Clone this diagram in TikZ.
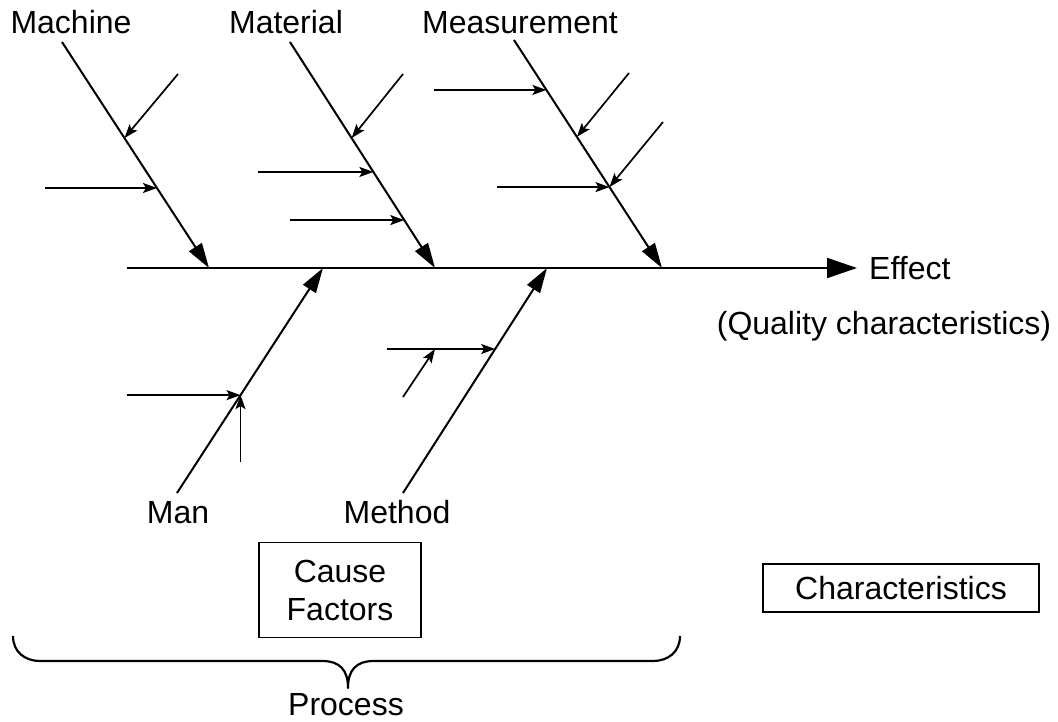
\documentclass[tikz,border=0pt]{standalone}
\usepackage{fontspec}
\setmainfont{Liberation Sans}
\usetikzlibrary{arrows.meta,calc}
\begin{document}
\begin{tikzpicture}[x=1pt,y=-1pt,
  every node/.style={font=\fontsize{32}{38}\selectfont, inner sep=0pt},
  bone/.style={line width=2pt, -{Triangle[length=25pt,width=15pt]}},
  twig/.style={line width=1.7pt, -{Stealth[length=14pt,width=10pt,inset=3pt]}},
  frame/.style={draw, line width=1.8pt}]
\useasboundingbox (0,0) rectangle (1058,721);

% spine and effect
\coordinate (tail) at (127,268);
\coordinate (head) at (857,268);
\draw[line width=2pt, -{Triangle[length=30pt,width=20pt]}] (tail) -- (head);
\node[anchor=base west] (effect) at (869,279) {Effect};
\node[anchor=base] (quality) at (884,334) {(Quality characteristics)};

% category labels
\node[anchor=base] (machine) at (71,33) {Machine};
\node[anchor=base] (material) at (286,33) {Material};
\node[anchor=base] (measurement) at (520,33) {Measurement};
\node[anchor=base] (man) at (178,523) {Man};
\node[anchor=base] (method) at (397,523) {Method};

% main bones
\coordinate (mach0) at (62,42);   \coordinate (mach1) at (209,268);
\coordinate (mat0) at (290,42);   \coordinate (mat1) at (435,268);
\coordinate (meas0) at (514,40);  \coordinate (meas1) at (662,268);
\coordinate (man0) at (177,493);  \coordinate (man1) at (323,268);
\coordinate (meth0) at (403,493); \coordinate (meth1) at (547,268);
\draw[bone] (mach0) -- (mach1);
\draw[bone] (mat0) -- (mat1);
\draw[bone] (meas0) -- (meas1);
\draw[bone] (man0) -- (man1);
\draw[bone] (meth0) -- (meth1);

% Machine twigs
\coordinate (machA) at ($(mach0)!0.425!(mach1)$);
\coordinate (machB) at ($(mach0)!0.646!(mach1)$);
\coordinate (machAs) at (178,74);
\coordinate (machBs) at (45,0 |- machB);
\draw[twig] (machAs) -- (machA);
\draw[twig] (machBs) -- (machB);

% Material twigs
\coordinate (matA) at ($(mat0)!0.425!(mat1)$);
\coordinate (matB) at ($(mat0)!0.575!(mat1)$);
\coordinate (matC) at ($(mat0)!0.788!(mat1)$);
\coordinate (matAs) at (403,74);
\coordinate (matBs) at (258,0 |- matB);
\coordinate (matCs) at (290,0 |- matC);
\draw[twig] (matAs) -- (matA);
\draw[twig] (matBs) -- (matB);
\draw[twig] (matCs) -- (matC);

% Measurement twigs
\coordinate (measA) at ($(meas0)!0.219!(meas1)$);
\coordinate (measB) at ($(meas0)!0.425!(meas1)$);
\coordinate (measC) at ($(meas0)!0.645!(meas1)$);
\coordinate (measAs) at (434,0 |- measA);
\coordinate (measBs) at (629,73);
\coordinate (measCs) at (663,122);
\coordinate (measDs) at (497,0 |- measC);
\draw[twig] (measAs) -- (measA);
\draw[twig] (measBs) -- (measB);
\draw[twig] (measCs) -- (measC);
\draw[twig] (measDs) -- (measC);

% Man twigs
\coordinate (manA) at ($(man0)!0.435!(man1)$);
\coordinate (manAs) at (127,0 |- manA);
\coordinate (manBs) at ($(manA |- 0,462)$);
\draw[twig] (manAs) -- (manA);
\draw[twig] (manBs) -- (manA);

% Method twigs
\coordinate (methA) at ($(meth0)!0.64!(meth1)$);
\coordinate (methAs) at (387,0 |- methA);
\coordinate (methB) at (435,0 |- methA);
\coordinate (methBs) at (403,397);
\draw[twig] (methAs) -- (methA);
\draw[twig] (methBs) -- (methB);

% boxes
\node[frame, minimum width=162pt, minimum height=95pt, align=center] (cause) at (340,590) {Cause\\Factors};
\node[frame, minimum width=276pt, minimum height=48pt] (chars) at (901,588) {Characteristics};

% process brace
\coordinate (bl) at (13,636);
\coordinate (bm) at (348,688);
\coordinate (br) at (680,636);
\draw[line width=2.2pt, line join=round]
  (bl) .. controls (13,652) and (25,661) .. (40,661) -- (322,661)
  .. controls (340,661) and (348,670) .. (bm)
  .. controls (348,670) and (356,661) .. (374,661) -- (653,661)
  .. controls (668,661) and (680,652) .. (br);
\node[anchor=base] (process) at (346,715) {Process};
\end{tikzpicture}
\end{document}
